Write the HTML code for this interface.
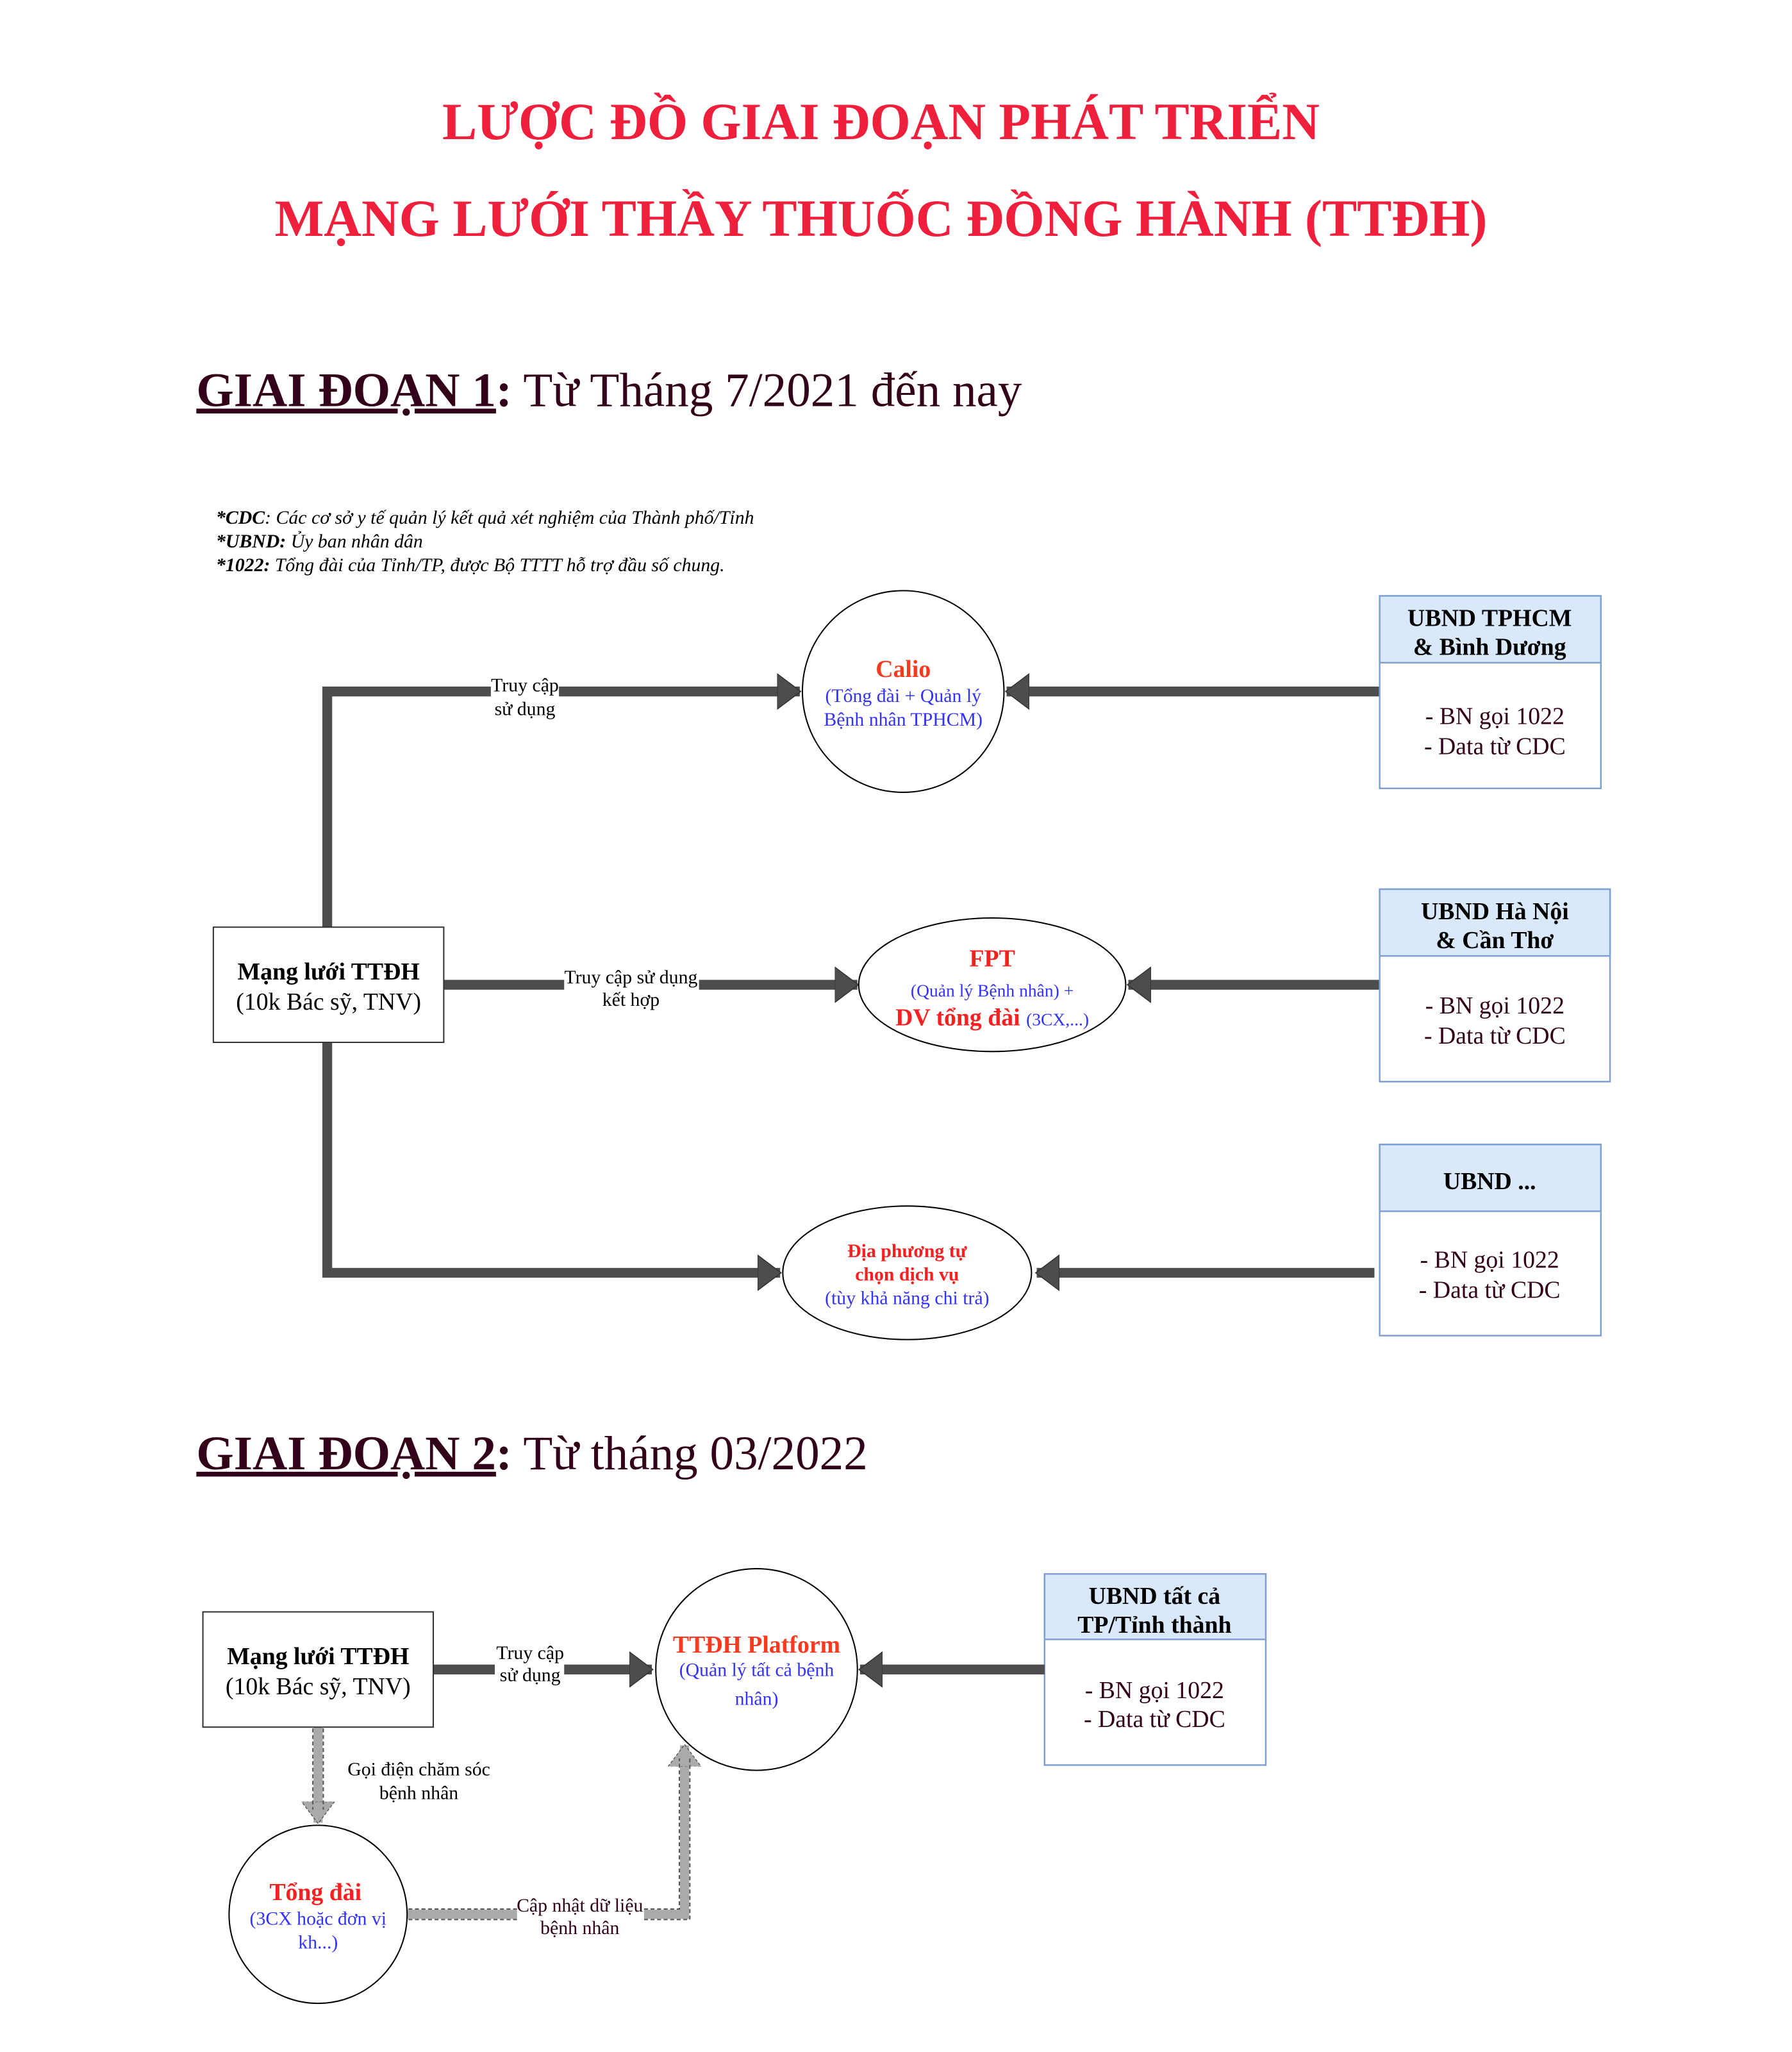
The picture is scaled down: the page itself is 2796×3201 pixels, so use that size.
<!DOCTYPE html>
<html><head><meta charset="utf-8"><style>html,body{margin:0;padding:0;background:#fff}svg{display:block}</style></head>
<body>
<svg width="2796" height="3201" viewBox="0 0 1369 1567" xmlns="http://www.w3.org/2000/svg" font-family="'Liberation Serif', serif">
<defs>
<marker id="ah" markerWidth="4" markerHeight="4" refX="2.3" refY="2" orient="auto" markerUnits="strokeWidth">
<path d="M0,0.2 L2.4,2 L0,3.8 Z" fill="#4d4d4d" stroke="#333" stroke-width="0.1"/>
</marker>
<marker id="ag" markerWidth="4" markerHeight="4" refX="2.3" refY="2" orient="auto" markerUnits="strokeWidth">
<path d="M0,0.2 L2.4,2 L0,3.8 Z" fill="#aaa" stroke="#555" stroke-width="0.1" stroke-dasharray="0.3 0.2"/>
</marker>
</defs>
<rect width="1369" height="1567" fill="#fff"/>
<g fill="#f0203c" font-weight="bold" font-size="39.8" text-anchor="middle">
<text x="673" y="106">LƯỢC ĐỒ GIAI ĐOẠN PHÁT TRIỂN</text>
<text x="673" y="180">MẠNG LƯỚI THẦY THUỐC ĐỒNG HÀNH (TTĐH)</text>
</g>
<text x="150" y="310" font-size="36.8" fill="#33001a"><tspan font-weight="bold" text-decoration="underline">GIAI ĐOẠN 1</tspan><tspan font-weight="bold">:</tspan> Từ Tháng 7/2021 đến nay</text>
<g font-size="14.6" font-style="italic" fill="#000">
<text x="165" y="400"><tspan font-weight="bold">*CDC</tspan>: Các cơ sở y tế quản lý kết quả xét nghiệm của Thành phố/Tỉnh</text>
<text x="165" y="418"><tspan font-weight="bold">*UBND:</tspan> Ủy ban nhân dân</text>
<text x="165" y="436"><tspan font-weight="bold">*1022:</tspan> Tổng đài của Tỉnh/TP, được Bộ TTTT hỗ trợ đầu số chung.</text>
</g>
<g stroke="#4d4d4d" stroke-width="7.5" fill="none">
<path d="M250,708 V528 H611" marker-end="url(#ah)"/>
<path d="M1054,528 H769" marker-end="url(#ah)"/>
<path d="M339,752 H655" marker-end="url(#ah)"/>
<path d="M1054,752 H862" marker-end="url(#ah)"/>
<path d="M250,796 V972 H596" marker-end="url(#ah)"/>
<path d="M1050,972 H792" marker-end="url(#ah)"/>
</g>
<g font-size="14.6" text-anchor="middle" fill="#000">
<rect x="375" y="515" width="52" height="34" fill="#fff"/>
<text x="401" y="528">Truy cập</text><text x="401" y="546">sử dụng</text>
<rect x="431" y="739" width="103" height="34" fill="#fff"/>
<text x="482" y="751">Truy cập sử dụng</text><text x="482" y="768">kết hợp</text>
</g>
<rect x="163" y="708" width="176" height="88" fill="#fff" stroke="#333"/>
<text x="251" y="748" font-size="18.5" font-weight="bold" text-anchor="middle">Mạng lưới TTĐH</text>
<text x="251" y="771" font-size="18.5" text-anchor="middle">(10k Bác sỹ, TNV)</text>
<circle cx="690" cy="528" r="77" fill="#fff" stroke="#000"/>
<text x="690" y="517" font-size="18.5" font-weight="bold" fill="#f83a1e" text-anchor="middle">Calio</text>
<text x="690" y="536" font-size="14.6" fill="#3333ff" text-anchor="middle">(Tổng đài + Quản lý</text>
<text x="690" y="554" font-size="14.6" fill="#3333ff" text-anchor="middle">Bệnh nhân TPHCM)</text>
<ellipse cx="758" cy="752" rx="102" ry="51" fill="#fff" stroke="#000"/>
<text x="758" y="738" font-size="18.5" font-weight="bold" fill="#f82020" text-anchor="middle">FPT</text>
<text x="758" y="761" font-size="13.5" fill="#3333ff" text-anchor="middle">(Quản lý Bệnh nhân) +</text>
<text x="758" y="783" text-anchor="middle"><tspan font-size="18.5" font-weight="bold" fill="#f82020">DV tổng đài </tspan><tspan font-size="13.5" fill="#3333ff">(3CX,...)</tspan></text>
<ellipse cx="693" cy="972" rx="95" ry="51" fill="#fff" stroke="#000"/>
<text x="693" y="960" font-size="14.6" font-weight="bold" fill="#f82020" text-anchor="middle">Địa phương tự</text>
<text x="693" y="978" font-size="14.6" font-weight="bold" fill="#f82020" text-anchor="middle">chọn dịch vụ</text>
<text x="693" y="996" font-size="14.6" fill="#3333ff" text-anchor="middle">(tùy khả năng chi trả)</text>
<g stroke="#7e9fd0" stroke-width="1.2">
<rect x="1054" y="455" width="169" height="147" fill="#fff"/><rect x="1054" y="455" width="169" height="51" fill="#dae8fc"/>
<rect x="1054" y="679" width="176" height="147" fill="#fff"/><rect x="1054" y="679" width="176" height="51" fill="#dae8fc"/>
<rect x="1054" y="874" width="169" height="146" fill="#fff"/><rect x="1054" y="874" width="169" height="51" fill="#dae8fc"/>
<rect x="798" y="1202" width="169" height="146" fill="#fff"/><rect x="798" y="1202" width="169" height="50" fill="#dae8fc"/>
</g>
<g font-size="18.5" text-anchor="middle">
<text x="1138" y="478" font-weight="bold">UBND TPHCM</text><text x="1138" y="500" font-weight="bold">&amp; Bình Dương</text>
<text x="1142" y="553" fill="#33001a">- BN gọi 1022</text><text x="1142" y="576" fill="#33001a">- Data từ CDC</text>
<text x="1142" y="702" font-weight="bold">UBND Hà Nội</text><text x="1142" y="724" font-weight="bold">&amp; Cần Thơ</text>
<text x="1142" y="774" fill="#33001a">- BN gọi 1022</text><text x="1142" y="797" fill="#33001a">- Data từ CDC</text>
<text x="1138" y="908" font-weight="bold">UBND ...</text>
<text x="1138" y="968" fill="#33001a">- BN gọi 1022</text><text x="1138" y="991" fill="#33001a">- Data từ CDC</text>
<text x="882" y="1225" font-weight="bold">UBND tất cả</text><text x="882" y="1247" font-weight="bold">TP/Tỉnh thành</text>
<text x="882" y="1297" fill="#33001a">- BN gọi 1022</text><text x="882" y="1319" fill="#33001a">- Data từ CDC</text>
</g>
<text x="150" y="1122" font-size="36.8" fill="#33001a"><tspan font-weight="bold" text-decoration="underline">GIAI ĐOẠN 2</tspan><tspan font-weight="bold">:</tspan> Từ tháng 03/2022</text>
<g stroke="#4d4d4d" stroke-width="7.5" fill="none">
<path d="M331,1275 H498" marker-end="url(#ah)"/>
<path d="M798,1275 H657" marker-end="url(#ah)"/>
</g>
<g stroke="#aaa" stroke-width="7" fill="none">
<path d="M243,1319 V1392" marker-end="url(#ag)"/>
<path d="M311,1462 H523 V1333" marker-end="url(#ag)"/>
</g>
<g stroke="#555" stroke-width="1" stroke-dasharray="3 2" fill="none">
<path d="M239,1320 V1382 M247,1320 V1382"/>
<path d="M312,1458 H519 V1343 M312,1466 H527 V1343"/>
</g>
<rect x="378" y="1255" width="53" height="36" fill="#fff"/>
<text x="405" y="1267" font-size="14.6" text-anchor="middle">Truy cập</text>
<text x="405" y="1284" font-size="14.6" text-anchor="middle">sử dụng</text>
<text x="320" y="1356" font-size="14.6" text-anchor="middle">Gọi điện chăm sóc</text>
<text x="320" y="1374" font-size="14.6" text-anchor="middle">bệnh nhân</text>
<rect x="395" y="1447" width="97" height="34" fill="#fff"/>
<text x="443" y="1460" font-size="14.6" fill="#33001a" text-anchor="middle">Cập nhật dữ liệu</text>
<text x="443" y="1477" font-size="14.6" fill="#33001a" text-anchor="middle">bệnh nhân</text>
<rect x="155" y="1231" width="176" height="88" fill="#fff" stroke="#333"/>
<text x="243" y="1271" font-size="18.5" font-weight="bold" text-anchor="middle">Mạng lưới TTĐH</text>
<text x="243" y="1294" font-size="18.5" text-anchor="middle">(10k Bác sỹ, TNV)</text>
<circle cx="578" cy="1275" r="77" fill="#fff" stroke="#000"/>
<text x="578" y="1262" font-size="18.5" font-weight="bold" fill="#f83a1e" text-anchor="middle">TTĐH Platform</text>
<text x="578" y="1280" font-size="14.6" fill="#3333ff" text-anchor="middle">(Quản lý tất cả bệnh</text>
<text x="578" y="1302" font-size="14.6" fill="#3333ff" text-anchor="middle">nhân)</text>
<circle cx="243" cy="1462" r="68" fill="#fff" stroke="#000"/>
<text x="241" y="1451" font-size="18.5" font-weight="bold" fill="#f82020" text-anchor="middle">Tổng đài</text>
<text x="243" y="1470" font-size="14.6" fill="#3333ff" text-anchor="middle">(3CX hoặc đơn vị</text>
<text x="243" y="1488" font-size="14.6" fill="#3333ff" text-anchor="middle">kh...)</text>
</svg>
</body></html>
